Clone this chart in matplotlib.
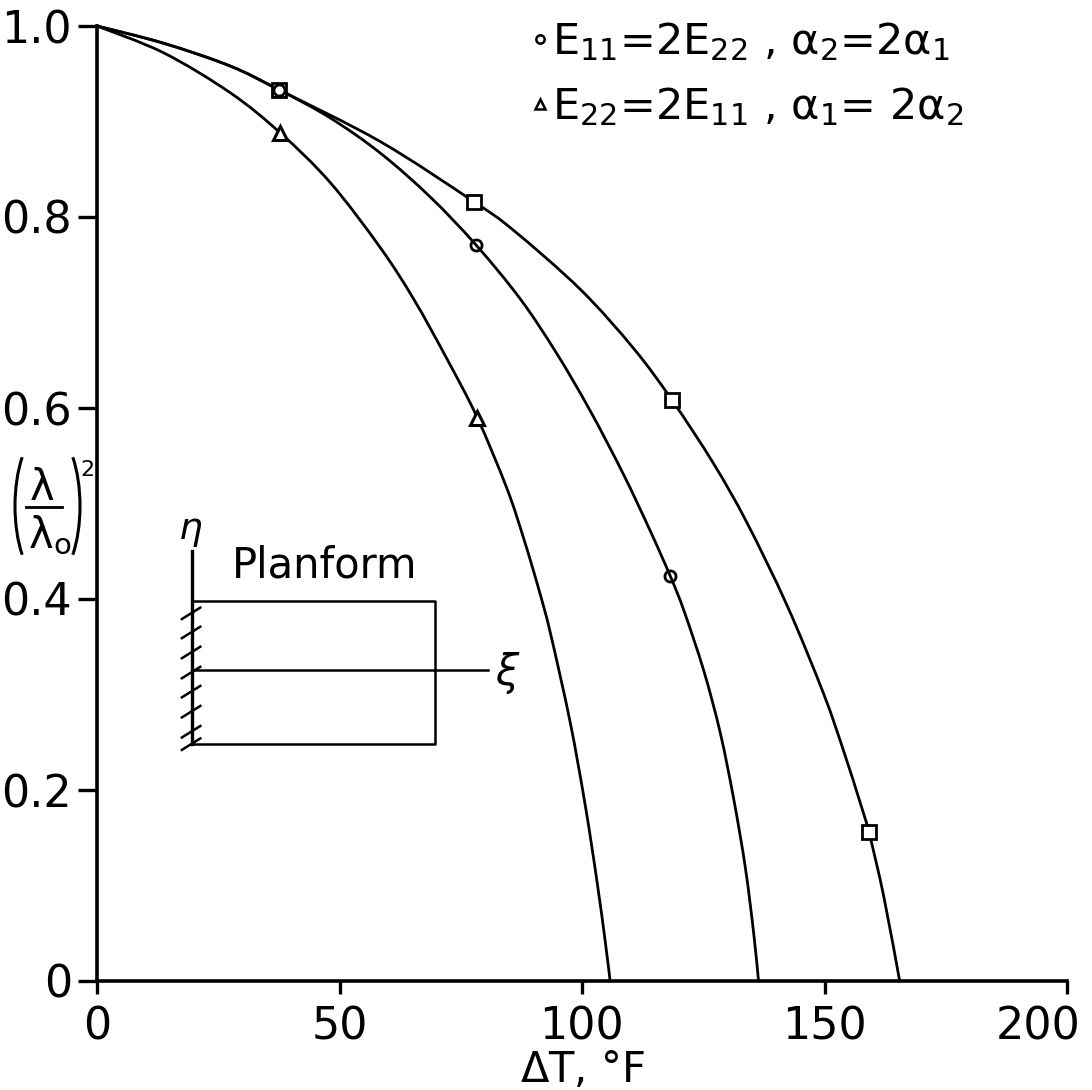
import matplotlib
matplotlib.use('Agg')
import matplotlib.pyplot as plt
from matplotlib.path import Path
from matplotlib.patches import PathPatch, Arc
from matplotlib.lines import Line2D
from matplotlib.transforms import ScaledTranslation

plt.rcParams['font.family'] = ['DejaVu Sans']
plt.rcParams['mathtext.fontset'] = 'dejavusans'
plt.rcParams['mathtext.default'] = 'regular'

# faired curves, (lambda/lambda0)^2 against temperature rise dT (deg F)
sq_curve_dt = [0, 13.7, 27.5, 37.6, 58.4, 77.7, 85.9, 99.7, 110.7, 118.6, 127.1,
               134.0, 142.3, 149.8, 154.0, 157.4, 159.2, 162.2, 165.5]
sq_curve_lam = [1.0, 0.982, 0.958, 0.933, 0.879, 0.816, 0.786, 0.724, 0.662, 0.608, 0.542,
                0.480, 0.393, 0.301, 0.240, 0.186, 0.155, 0.089, 0.0]

ci_curve_dt = [0, 13.7, 27.5, 37.6, 48.0, 58.4, 68.7, 78.1, 87.3, 94.8, 101.7,
               108.6, 114.1, 118.2, 121.0, 125.1, 128.5, 131.3, 133.7, 135.4, 136.4]
ci_curve_lam = [1.0, 0.982, 0.958, 0.933, 0.904, 0.867, 0.821, 0.771, 0.714, 0.657, 0.597,
                0.530, 0.471, 0.424, 0.388, 0.325, 0.260, 0.190, 0.118, 0.050, 0.0]

tr_curve_dt = [0, 13.7, 27.5, 37.8, 48.1, 58.4, 65.3, 72.2, 78.4, 84.5, 88.0, 91.1,
               93.5, 97.6, 100.7, 103.1, 104.8, 105.8]
tr_curve_lam = [1.0, 0.972, 0.930, 0.888, 0.836, 0.768, 0.714, 0.651, 0.590, 0.516, 0.463, 0.410,
                0.364, 0.270, 0.183, 0.104, 0.041, 0.0]

# computed points
sq_dt = [37.6, 77.7, 118.6, 159.2]
sq_lam = [0.933, 0.816, 0.608, 0.156]
ci_dt = [37.6, 78.1, 118.2]
ci_lam = [0.933, 0.771, 0.424]
tr_dt = [37.8, 78.4]
tr_lam = [0.888, 0.590]

x_ticks = [0, 50, 100, 150, 200]
x_ticklabels = ['0', '50', '100', '150', '200']
y_ticks = [0, 0.2, 0.4, 0.6, 0.8, 1.0]
y_ticklabels = ['0', '0.2', '0.4', '0.6', '0.8', '1.0']


def faired(xs, ys):
    # smooth Catmull-Rom style bezier through the given points
    pts = list(zip(xs, ys))
    ext = [pts[0]] + pts + [pts[-1]]
    verts = [pts[0]]
    codes = [Path.MOVETO]
    for i in range(1, len(ext) - 2):
        p0, p1, p2, p3 = ext[i - 1], ext[i], ext[i + 1], ext[i + 2]
        c1 = (p1[0] + (p2[0] - p0[0]) / 6.0, p1[1] + (p2[1] - p0[1]) / 6.0)
        c2 = (p2[0] - (p3[0] - p1[0]) / 6.0, p2[1] - (p3[1] - p1[1]) / 6.0)
        verts += [c1, c2, p2]
        codes += [Path.CURVE4] * 3
    return Path(verts, codes)


W, H = 1092, 1090
fig = plt.figure(figsize=(W / 100, H / 100), dpi=100)
ax = fig.add_axes([97 / W, 109 / H, 970 / W, 955 / H])


def fx(px):
    return px / W


def fy(py):
    return (H - py) / H


lw = 2.0
for cx, cy in [(sq_curve_dt, sq_curve_lam), (ci_curve_dt, ci_curve_lam), (tr_curve_dt, tr_curve_lam)]:
    ax.add_patch(PathPatch(faired(cx, cy), fill=False, ec='black', lw=lw, clip_on=False,
                           capstyle='round', joinstyle='round'))

ax.plot(sq_dt, sq_lam, ls='none', marker='s', ms=9.5, mfc='white', mec='black', mew=2.0, zorder=3)
ax.plot(ci_dt, ci_lam, ls='none', marker='o', ms=8, mfc='none', mec='black', mew=2.0, zorder=4)
ax.plot(tr_dt, tr_lam, ls='none', marker='^', ms=10.5, mfc='white', mec='black', mew=2.2, zorder=3)

ax.set_xlim(0, 200)
ax.set_ylim(0, 1.0)
ax.set_xticks(x_ticks)
ax.set_xticklabels(x_ticklabels)
ax.set_yticks(y_ticks)
ax.set_yticklabels(y_ticklabels)
ax.tick_params(axis='x', direction='out', length=9, width=2.4, pad=9, labelsize=32)
ax.tick_params(axis='y', direction='out', length=14, width=2.4, pad=4, labelsize=32)
for side in ['top', 'right']:
    ax.spines[side].set_visible(False)
for side in ['left', 'bottom']:
    ax.spines[side].set_linewidth(2.6)

# last x label sits left of its tick
last = ax.get_xticklabels()[-1]
last.set_transform(last.get_transform() + ScaledTranslation(-0.29, 0, fig.dpi_scale_trans))

ax.set_xlabel(r'$\Delta$T, $\degree$F', fontsize=30, labelpad=0)

# y label (lambda / lambda_o)^2, lettered piece by piece
fig.text(fx(42), fy(500), 'λ', fontsize=30, ha='center', va='baseline')
fig.add_artist(Line2D([fx(26), fx(62)], [fy(507), fy(507)], color='black', lw=2.0))
fig.text(fx(50), fy(548), r'λ$_o$', fontsize=30, ha='center', va='baseline')
fig.add_artist(Arc((fx(45), fy(506)), 60 / W, 150 / H, theta1=115, theta2=245,
                   color='black', lw=2.2))
fig.add_artist(Arc((fx(50), fy(506)), 60 / W, 150 / H, theta1=-65, theta2=65,
                   color='black', lw=2.2))
fig.text(fx(87), fy(460), '2', fontsize=16, ha='center', va='top')

# legend written by hand at the top
ax.plot([91.3], [0.986], marker='o', ms=6, mfc='none', mec='black', mew=1.8, clip_on=False)
ax.text(93.8, 0.971, r'E$_{11}$=2E$_{22}$ , $\alpha_2$=2$\alpha_1$', fontsize=31,
        ha='left', va='baseline')
ax.plot([91.3], [0.918], marker='^', ms=7, mfc='none', mec='black', mew=1.8, clip_on=False)
ax.text(93.8, 0.903, r'E$_{22}$=2E$_{11}$ , $\alpha_1$= 2$\alpha_2$', fontsize=31,
        ha='left', va='baseline')

# cantilever plate planform sketch
ilw = 1.8
ax.plot([19.5, 69.7, 69.7, 19.5], [0.398, 0.398, 0.248, 0.248], color='black', lw=ilw)
ax.plot([19.5, 19.5], [0.450, 0.248], color='black', lw=ilw + 0.6)
ax.plot([19.5, 80.6], [0.326, 0.326], color='black', lw=ilw)
for yh in [0.386, 0.366, 0.345, 0.324, 0.304, 0.283, 0.262, 0.249]:
    ax.plot([17.5, 21.3], [yh - 0.007, yh + 0.005], color='black', lw=ilw)
ax.text(19.2, 0.452, r'$\mathit{\eta}$', fontsize=27, ha='center', va='bottom')
ax.text(27.8, 0.423, 'Planform', fontsize=30, ha='left', va='baseline')
ax.text(82.0, 0.322, r'$\mathit{\xi}$', fontsize=30, ha='left', va='center')

fig.savefig('out.png', dpi=100)
